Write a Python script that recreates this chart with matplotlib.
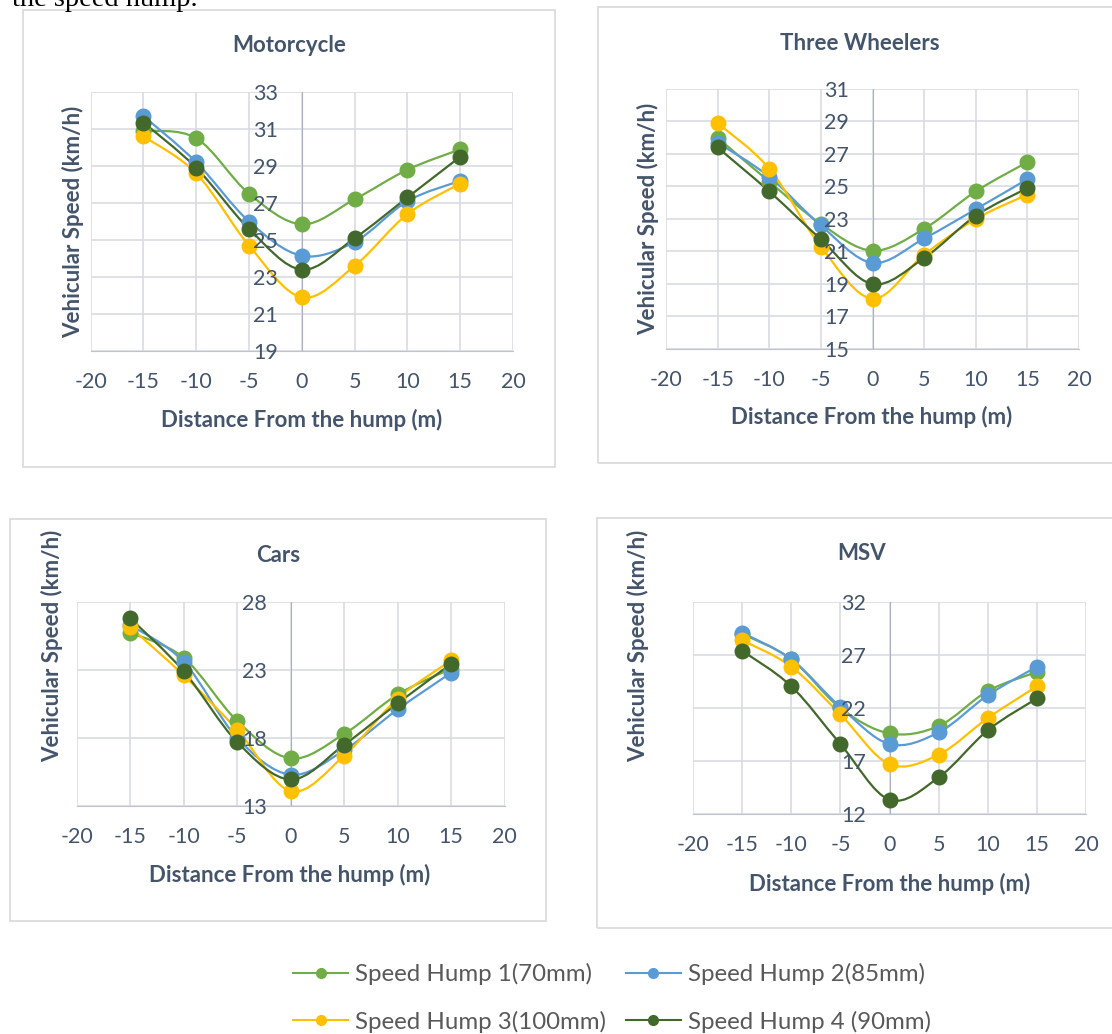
import numpy as np
import matplotlib
matplotlib.use("Agg")
import matplotlib.pyplot as plt
from matplotlib.path import Path
from matplotlib.patches import PathPatch, Rectangle
from matplotlib.lines import Line2D

plt.rcParams['font.family'] = ['Lato', 'DejaVu Sans']
plt.rcParams['axes.unicode_minus'] = False

# data
distance = [-15, -10, -5, 0, 5, 10, 15]
humps = ['Speed Hump 1(70mm)', 'Speed Hump 2(85mm)',
         'Speed Hump 3(100mm)', 'Speed Hump 4 (90mm)']
colors = ['#70AD47', '#5B9BD5', '#FFC000', '#43682B']

motorcycle = [[30.9, 30.5, 27.5, 25.85, 27.2, 28.8, 29.9],
              [31.7, 29.2, 26.0, 24.15, 24.9, 27.1, 28.2],
              [30.6, 28.6, 24.7, 21.9, 23.6, 26.4, 28.05],
              [31.35, 28.9, 25.6, 23.4, 25.1, 27.3, 29.5]]
three_wheelers = [[28.0, 25.3, 22.7, 21.05, 22.4, 24.7, 26.5],
                  [27.7, 25.6, 22.6, 20.3, 21.8, 23.6, 25.45],
                  [28.9, 26.1, 21.3, 18.1, 20.8, 23.0, 24.5],
                  [27.4, 24.7, 21.75, 19.0, 20.6, 23.2, 24.9]]
cars = [[25.75, 23.9, 19.25, 16.5, 18.3, 21.2, 23.1],
        [26.3, 23.6, 18.0, 15.3, 17.1, 20.1, 22.8],
        [26.15, 22.6, 18.6, 14.1, 16.7, 20.9, 23.7],
        [26.8, 22.9, 17.7, 14.95, 17.5, 20.55, 23.45]]
msv = [[29.0, 26.6, 22.0, 19.6, 20.3, 23.6, 25.4],
       [29.1, 26.6, 22.1, 18.6, 19.7, 23.2, 25.9],
       [28.4, 25.9, 21.4, 16.7, 17.6, 21.05, 24.05],
       [27.4, 24.05, 18.6, 13.35, 15.45, 19.9, 22.9]]

W, H = 1112, 1034
TXT = '#44546A'
GRID = '#D9DCE3'


def fx(px):
    return px / W


def fy(py):
    return 1 - py / H


def smooth_path(x, y):
    # Excel style smoothed line: cubic bezier through every point
    p = np.column_stack([x, y]).astype(float)
    ext = np.vstack([p[0], p, p[-1]])
    verts = [p[0]]
    codes = [Path.MOVETO]
    for i in range(len(p) - 1):
        a, b, c, d = ext[i], ext[i + 1], ext[i + 2], ext[i + 3]
        verts += [b + (c - a) / 6, c - (d - b) / 6, c]
        codes += [Path.CURVE4] * 3
    return Path(verts, codes)


def panel(box, rect, title, title_xy, xlab_xy, ylab_xy, series, yticks):
    x0, y0, x1, y1 = box
    fig.patches.append(Rectangle((fx(x0), fy(y1)), fx(x1 - x0), (y1 - y0) / H,
                                 transform=fig.transFigure, fill=False,
                                 edgecolor='#D9D9D9', lw=1.2))
    l, t, r, b = rect
    ax = fig.add_axes([fx(l), fy(b), fx(r - l), (b - t) / H])
    ax.set_xlim(-20, 20)
    ax.set_ylim(yticks[0], yticks[-1])
    for xv in range(-20, 21, 5):
        ax.axvline(xv, color=GRID, lw=1.2, zorder=0.5)
    for yv in yticks:
        ax.axhline(yv, color=GRID, lw=1.2, zorder=0.5)
    for vals, col in zip(series, colors):
        ax.add_patch(PathPatch(smooth_path(distance, vals), facecolor='none',
                               edgecolor=col, lw=1.6, zorder=2.1))
        ax.plot(distance, vals, 'o', color=col, ms=10.5, mec=col, zorder=2.2)
    ax.set_axisbelow(False)
    for s in ['top', 'right']:
        ax.spines[s].set_visible(False)
    ax.spines['left'].set_position(('data', 0))
    ax.spines['left'].set_color('#A9B1C2')
    ax.spines['left'].set_zorder(1)
    ax.spines['bottom'].set_color('#BFC4CC')
    ax.spines['bottom'].set_zorder(1)
    ax.set_xticks(range(-20, 21, 5))
    ax.set_yticks(yticks)
    ax.tick_params(axis='both', length=0, labelsize=15.5, labelcolor=TXT)
    ax.tick_params(axis='y', pad=17)
    ax.tick_params(axis='x', pad=15)
    ax.patch.set_visible(False)
    fig.text(fx(title_xy[0]), fy(title_xy[1]), title, ha='center', va='center',
             fontsize=16, fontweight='bold', color=TXT)
    fig.text(fx(xlab_xy[0]), fy(xlab_xy[1]), 'Distance From the hump (m)',
             ha='center', va='center', fontsize=16, fontweight='bold', color=TXT)
    fig.text(fx(ylab_xy[0]), fy(ylab_xy[1]), 'Vehicular Speed (km/h)',
             ha='center', va='center', rotation=90, fontsize=16,
             fontweight='bold', color=TXT)
    return ax


fig = plt.figure(figsize=(W / 100, H / 100), dpi=100)

fig.text(fx(12), fy(6), 'the speed hump.', family=['Liberation Serif'],
         fontsize=20.5, va='baseline', ha='left', color='black')

panel((23, 10, 555, 467), (90.7, 92, 513, 351), 'Motorcycle',
      (289, 46), (302, 420), (73, 222), motorcycle, list(range(19, 34, 2)))
panel((598, 7, 1122, 463), (666, 89, 1079, 349), 'Three Wheelers',
      (860, 43), (872, 417), (648, 219), three_wheelers, list(range(15, 32, 2)))
panel((10, 519, 546, 921), (76.8, 602, 504.6, 806), 'Cars',
      (278, 555), (290, 875), (52, 646), cars, list(range(13, 29, 5)))
panel((597, 518, 1122, 928), (693, 602, 1086, 814), 'MSV',
      (862, 554), (890, 884), (638, 646), msv, list(range(12, 33, 5)))

# legend fills column by column, so reorder to get rows 1-2 / 3-4
order = [0, 2, 1, 3]
handles = [Line2D([], [], color=colors[i], lw=1.5, marker='o', ms=7) for i in order]
labels = [humps[i] for i in order]
leg = fig.legend(handles, labels, ncol=2, loc='center', frameon=False,
                 bbox_to_anchor=(fx(612), fy(998)), fontsize=17.3,
                 handlelength=2.3, labelspacing=1.05, columnspacing=0.8,
                 handletextpad=0.3)
for t in leg.get_texts():
    t.set_color('#595959')

fig.savefig('out.png', dpi=100)
